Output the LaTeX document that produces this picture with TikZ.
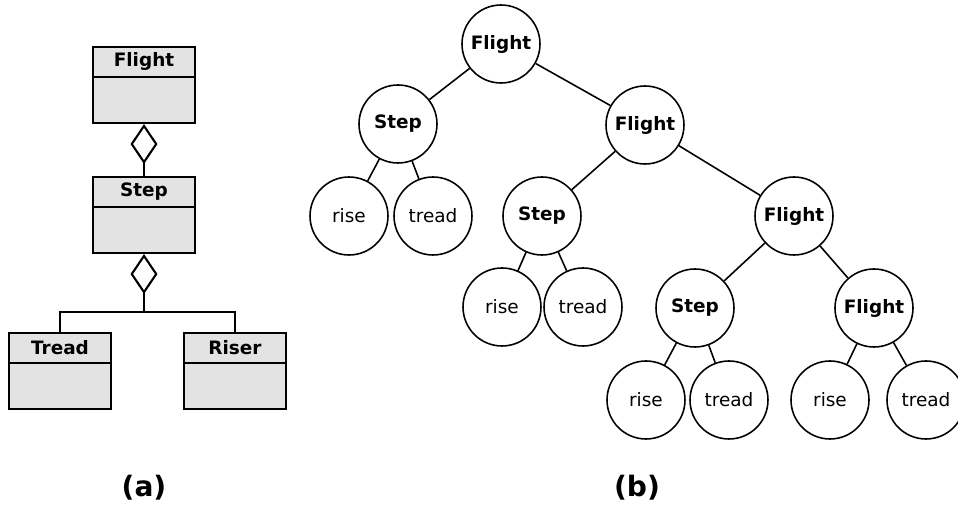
\documentclass[tikz,border=0pt]{standalone}
\usepackage{fontspec}
\setmainfont{DejaVu Sans}
\usetikzlibrary{arrows.meta}

\tikzset{
  classbox/.style={draw, line width=1.2pt, fill=gray!22, minimum width=2.04cm,
    minimum height=1.52cm, inner sep=0pt},
  classname/.style={font=\fontsize{10.5}{12}\selectfont\bfseries, inner sep=0pt},
  aggr/.style={line width=1.2pt, -{Diamond[open, length=0.8cm, width=0.54cm, fill=white]}},
  treenode/.style={draw, circle, line width=0.9pt, minimum size=1.56cm, inner sep=0pt,
    fill=white, font=\fontsize{10.5}{12}\selectfont},
  inner/.style={treenode, font=\fontsize{10.5}{12}\selectfont\bfseries},
  caption/.style={font=\fontsize{16}{18}\selectfont\bfseries}
}

\begin{document}
\begin{tikzpicture}[x=0.02cm, y=-0.02cm]

  % Fix page size
  \useasboundingbox (0,0) rectangle (958,509);

  % (a) class diagram
  \foreach \nm/\pos/\txt in {uf/{(144,85)}/Flight, us/{(144,215)}/Step,
                             ut/{(60,371)}/Tread, ur/{(235,371)}/Riser} {
    \node[classbox] (\nm) at \pos {};
    \draw[line width=1.2pt] (\nm.north west) ++(0,31) -- ++(102,0);
    \path (\nm.north) ++(0,15.5) node[classname] (\nm-name) {\txt};
  }

  % Aggregations
  \coordinate (join) at (144,312);
  \draw[aggr] (us.north) -- (uf.south);
  \draw[aggr] (join) -- (us.south);
  \draw[line width=1.2pt] (ut.north) |- (join) -| (ur.north);

  % (b) parse tree
  \node[inner] (f0) at (501,44) {Flight};
  \node[inner] (s1) at (398,124) {Step};
  \node[inner] (f1) at (645,125) {Flight};
  \node[treenode] (r1) at (349,216) {rise};
  \node[treenode] (t1) at (433,216) {tread};
  \node[inner] (s2) at (542,216) {Step};
  \node[inner] (f2) at (794,216) {Flight};
  \node[treenode] (r2) at (502,307) {rise};
  \node[treenode] (t2) at (583,307) {tread};
  \node[inner] (s3) at (695,308) {Step};
  \node[inner] (f3) at (874,308) {Flight};
  \node[treenode] (r3) at (646,400) {rise};
  \node[treenode] (t3) at (729,400) {tread};
  \node[treenode] (r4) at (830,400) {rise};
  \node[treenode] (t4) at (926,400) {tread};

  % Edges
  \foreach \a/\b in {f0/s1, f0/f1, s1/r1, s1/t1, f1/s2, f1/f2, s2/r2, s2/t2,
                     f2/s3, f2/f3, s3/r3, s3/t3, f3/r4, f3/t4}
    \draw[line width=0.9pt] (\a) -- (\b);

  % Captions
  \node[caption] (capa) at (144,488) {(a)};
  \node[caption] (capb) at (637,488) {(b)};

\end{tikzpicture}
\end{document}
